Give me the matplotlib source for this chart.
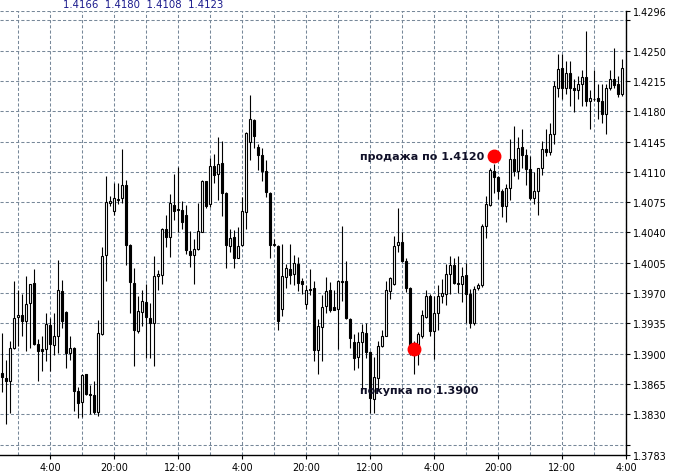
import numpy as np
import matplotlib.pyplot as plt

# hourly candles (open, high, low, close)
opens = [1.3878, 1.3872, 1.3869, 1.3906, 1.3942, 1.3945, 1.3938, 1.3958, 1.3982, 1.3911,
         1.3905, 1.3905, 1.3933, 1.3910, 1.3920, 1.3972, 1.3948, 1.3901, 1.3907, 1.3857,
         1.3844, 1.3876, 1.3854, 1.3852, 1.3833, 1.3923, 1.4014, 1.4074, 1.4065, 1.4078,
         1.4080, 1.4095, 1.4026, 1.3982, 1.3926, 1.3948, 1.3960, 1.3941, 1.3936, 1.3990,
         1.3991, 1.4044, 1.4035, 1.4072, 1.4067, 1.4066, 1.4060, 1.4019, 1.4014, 1.4021,
         1.4041, 1.4099, 1.4073, 1.4117, 1.4107, 1.4120, 1.4086, 1.4024, 1.4035, 1.4011,
         1.4025, 1.4064, 1.4145, 1.4170, 1.4139, 1.4130, 1.4111, 1.4086, 1.4026, 1.4024,
         1.3952, 1.3988, 1.3998, 1.3992, 1.4004, 1.3984, 1.3957, 1.3974, 1.3976, 1.3904,
         1.3931, 1.3955, 1.3973, 1.3954, 1.3952, 1.3984, 1.3984, 1.3940, 1.3913, 1.3896,
         1.3914, 1.3924, 1.3902, 1.3848, 1.3872, 1.3909, 1.3921, 1.3972, 1.3980, 1.4025,
         1.4029, 1.4007, 1.3976, 1.3908, 1.3908, 1.3921, 1.3942, 1.3967, 1.3926, 1.3947,
         1.3967, 1.3969, 1.3992, 1.4003, 1.3982, 1.3981, 1.3991, 1.3969, 1.3935, 1.3976,
         1.3979, 1.4047, 1.4072, 1.4111, 1.4104, 1.4088, 1.4070, 1.4091, 1.4125, 1.4111,
         1.4139, 1.4129, 1.4113, 1.4080, 1.4088, 1.4114, 1.4136, 1.4133, 1.4154, 1.4207,
         1.4230, 1.4207, 1.4224, 1.4207, 1.4205, 1.4212, 1.4219, 1.4192, 1.4194, 1.4195,
         1.4192, 1.4177, 1.4207, 1.4217, 1.4211, 1.4200]
highs = [1.3924, 1.3893, 1.3915, 1.3984, 1.3973, 1.3969, 1.3990, 1.3981, 1.3998, 1.3917,
         1.3920, 1.3947, 1.3941, 1.3947, 1.4008, 1.3985, 1.3949, 1.3920, 1.3908, 1.3861,
         1.3876, 1.3877, 1.3864, 1.3869, 1.3939, 1.4023, 1.4105, 1.4082, 1.4097, 1.4097,
         1.4136, 1.4101, 1.4027, 1.3999, 1.3967, 1.3974, 1.3981, 1.3959, 1.4013, 1.3997,
         1.4045, 1.4060, 1.4084, 1.4107, 1.4116, 1.4076, 1.4072, 1.4042, 1.4032, 1.4074,
         1.4101, 1.4100, 1.4126, 1.4131, 1.4150, 1.4146, 1.4087, 1.4044, 1.4043, 1.4046,
         1.4081, 1.4156, 1.4199, 1.4171, 1.4142, 1.4137, 1.4124, 1.4087, 1.4033, 1.4025,
         1.4027, 1.4004, 1.4027, 1.4014, 1.4012, 1.3987, 1.3979, 1.3998, 1.3984, 1.3940,
         1.3968, 1.3989, 1.3983, 1.3973, 1.3985, 1.4048, 1.4007, 1.3941, 1.3923, 1.3925,
         1.3934, 1.3936, 1.3903, 1.3896, 1.3915, 1.3927, 1.3984, 1.3988, 1.4036, 1.4068,
         1.4041, 1.4010, 1.3977, 1.3915, 1.3925, 1.3950, 1.3973, 1.3969, 1.3967, 1.3979,
         1.3986, 1.4004, 1.4013, 1.4010, 1.4013, 1.4000, 1.4005, 1.3975, 1.3978, 1.3982,
         1.4050, 1.4082, 1.4115, 1.4119, 1.4105, 1.4090, 1.4096, 1.4148, 1.4163, 1.4150,
         1.4160, 1.4136, 1.4128, 1.4110, 1.4115, 1.4146, 1.4160, 1.4166, 1.4215, 1.4246,
         1.4246, 1.4238, 1.4238, 1.4217, 1.4221, 1.4228, 1.4273, 1.4204, 1.4228, 1.4211,
         1.4211, 1.4211, 1.4228, 1.4253, 1.4221, 1.4240]
lows = [1.3856, 1.3819, 1.3831, 1.3905, 1.3909, 1.3920, 1.3903, 1.3907, 1.3910, 1.3869,
        1.3880, 1.3892, 1.3880, 1.3898, 1.3901, 1.3930, 1.3883, 1.3893, 1.3834, 1.3826,
        1.3827, 1.3852, 1.3830, 1.3830, 1.3828, 1.3922, 1.3984, 1.4070, 1.4060, 1.4073,
        1.4074, 1.4002, 1.3947, 1.3886, 1.3924, 1.3932, 1.3895, 1.3895, 1.3886, 1.3974,
        1.3980, 1.4023, 1.4012, 1.4054, 1.4040, 1.4044, 1.4015, 1.4000, 1.3980, 1.4020,
        1.4040, 1.4068, 1.4069, 1.4097, 1.4078, 1.4059, 1.3999, 1.4018, 1.3999, 1.4010,
        1.4024, 1.4044, 1.4124, 1.4137, 1.4112, 1.4099, 1.4081, 1.4011, 1.4024, 1.3927,
        1.3943, 1.3976, 1.3980, 1.3979, 1.3972, 1.3969, 1.3952, 1.3968, 1.3892, 1.3877,
        1.3892, 1.3947, 1.3948, 1.3950, 1.3905, 1.3961, 1.3940, 1.3906, 1.3881, 1.3883,
        1.3858, 1.3895, 1.3831, 1.3831, 1.3858, 1.3908, 1.3920, 1.3963, 1.3979, 1.4018,
        1.4006, 1.3971, 1.3898, 1.3877, 1.3887, 1.3918, 1.3941, 1.3921, 1.3894, 1.3927,
        1.3958, 1.3956, 1.3969, 1.3981, 1.3970, 1.3960, 1.3935, 1.3930, 1.3933, 1.3974,
        1.3977, 1.4034, 1.4071, 1.4086, 1.4079, 1.4058, 1.4052, 1.4078, 1.4105, 1.4102,
        1.4115, 1.4095, 1.4077, 1.4073, 1.4060, 1.4106, 1.4128, 1.4130, 1.4142, 1.4196,
        1.4194, 1.4200, 1.4186, 1.4179, 1.4194, 1.4186, 1.4186, 1.4160, 1.4192, 1.4171,
        1.4166, 1.4154, 1.4204, 1.4207, 1.4196, 1.4198]
closes = [1.3873, 1.3868, 1.3906, 1.3941, 1.3945, 1.3938, 1.3957, 1.3980, 1.3911, 1.3903,
          1.3903, 1.3934, 1.3911, 1.3920, 1.3973, 1.3938, 1.3901, 1.3906, 1.3857, 1.3843,
          1.3875, 1.3854, 1.3852, 1.3833, 1.3924, 1.4013, 1.4075, 1.4076, 1.4080, 1.4079,
          1.4095, 1.4026, 1.3983, 1.3927, 1.3949, 1.3961, 1.3942, 1.3936, 1.3990, 1.3992,
          1.4044, 1.4035, 1.4074, 1.4065, 1.4066, 1.4052, 1.4020, 1.4014, 1.4021, 1.4042,
          1.4099, 1.4070, 1.4117, 1.4106, 1.4119, 1.4086, 1.4025, 1.4034, 1.4011, 1.4024,
          1.4065, 1.4155, 1.4171, 1.4151, 1.4130, 1.4111, 1.4087, 1.4026, 1.4026, 1.3938,
          1.3990, 1.3999, 1.3991, 1.4005, 1.3982, 1.3980, 1.3973, 1.3975, 1.3904, 1.3932,
          1.3954, 1.3972, 1.3951, 1.3951, 1.3984, 1.3983, 1.3941, 1.3918, 1.3895, 1.3913,
          1.3925, 1.3902, 1.3849, 1.3873, 1.3909, 1.3920, 1.3974, 1.3987, 1.4024, 1.4029,
          1.4007, 1.3976, 1.3908, 1.3903, 1.3923, 1.3945, 1.3967, 1.3926, 1.3947, 1.3967,
          1.3970, 1.3992, 1.4002, 1.3982, 1.3981, 1.3990, 1.3969, 1.3935, 1.3975, 1.3979,
          1.4048, 1.4073, 1.4112, 1.4104, 1.4088, 1.4070, 1.4091, 1.4125, 1.4111, 1.4138,
          1.4129, 1.4113, 1.4080, 1.4088, 1.4114, 1.4136, 1.4133, 1.4154, 1.4209, 1.4229,
          1.4207, 1.4224, 1.4207, 1.4205, 1.4211, 1.4219, 1.4192, 1.4195, 1.4194, 1.4192,
          1.4177, 1.4207, 1.4217, 1.4210, 1.4200, 1.4230]

first_hour = 20 - 4   # hour of the first bar (bar 4 sits on 20:00)
price_lo, price_hi = 1.3783, 1.4296
grid_prices = [round(1.3795 + 0.0035 * k, 4) for k in range(15)]
header = "1.4166 1.4180 1.4108 1.4123"

sell_bar, sell_price = 123, 1.4128
buy_bar, buy_price = 103, 1.3905
sell_text = "продажа по 1.4120"
buy_text = "покупка по 1.3900"

o = np.array(opens)
h = np.array(highs)
l = np.array(lows)
c = np.array(closes)
x = np.arange(len(o))

fig = plt.figure(figsize=(6.83, 4.77), dpi=100)
ax = fig.add_axes([0, 21 / 477, 626 / 683, (456 - 11.8) / 477])
ax.set_xlim(-0.5, len(o))
ax.set_ylim(price_lo, price_hi)

grid_kw = dict(color='#778899', lw=0.75, ls=(0, (3, 2)), zorder=0)
for gp in grid_prices + [price_hi]:
    ax.axhline(gp, **grid_kw)
for gx in range(4, len(o) + 1, 8):
    ax.axvline(gx, **grid_kw)

ax.vlines(x, l, h, color='black', lw=0.8, zorder=2)
up = c >= o
body = np.abs(c - o)
body = np.where(body < 0.00002, 0.00002, body)
ax.bar(x[up], body[up], bottom=np.minimum(o, c)[up], width=0.6,
       color='white', edgecolor='black', lw=0.8, zorder=3)
ax.bar(x[~up], body[~up], bottom=np.minimum(o, c)[~up], width=0.6,
       color='black', edgecolor='black', lw=0.8, zorder=3)

ax.plot([sell_bar], [sell_price], 'o', color='#ff0000', ms=9, zorder=5)
ax.plot([buy_bar], [buy_price], 'o', color='#ff0000', ms=9, zorder=5)
ax.text(120.6, sell_price, sell_text, ha='right', va='center', fontsize=8,
        fontweight='bold', color='#101028', zorder=6)
ax.text(89.5, 1.3858, buy_text, ha='left', va='center', fontsize=8,
        fontweight='bold', color='#101028', zorder=6)

# axes look
for side in ['top', 'left']:
    ax.spines[side].set_visible(False)
ax.spines['right'].set_linewidth(1)
ax.spines['bottom'].set_linewidth(1)

yt = [price_lo] + grid_prices + [price_hi]
ylab = [f"{v:.4f}" for v in yt]
ylab[1] = ''
ylab[-2] = ''
ax.yaxis.tick_right()
ax.set_yticks(yt)
ax.set_yticklabels(ylab)

xt = [i for i in range(len(o) + 1) if (i - 4) % 16 == 8]
xlab = [f"{(first_hour + i) % 24}:00" for i in xt]
ax.set_xticks(xt)
ax.set_xticklabels(xlab)
ax.tick_params(axis='both', labelsize=7, length=3, width=0.8, pad=2, colors='black')

fig.text(63 / 683, 1 - 4.5 / 477, header.replace(' ', '  '), fontsize=7.3,
         color='#1a1a8c', va='center')

fig.savefig('out.png', dpi=100)
